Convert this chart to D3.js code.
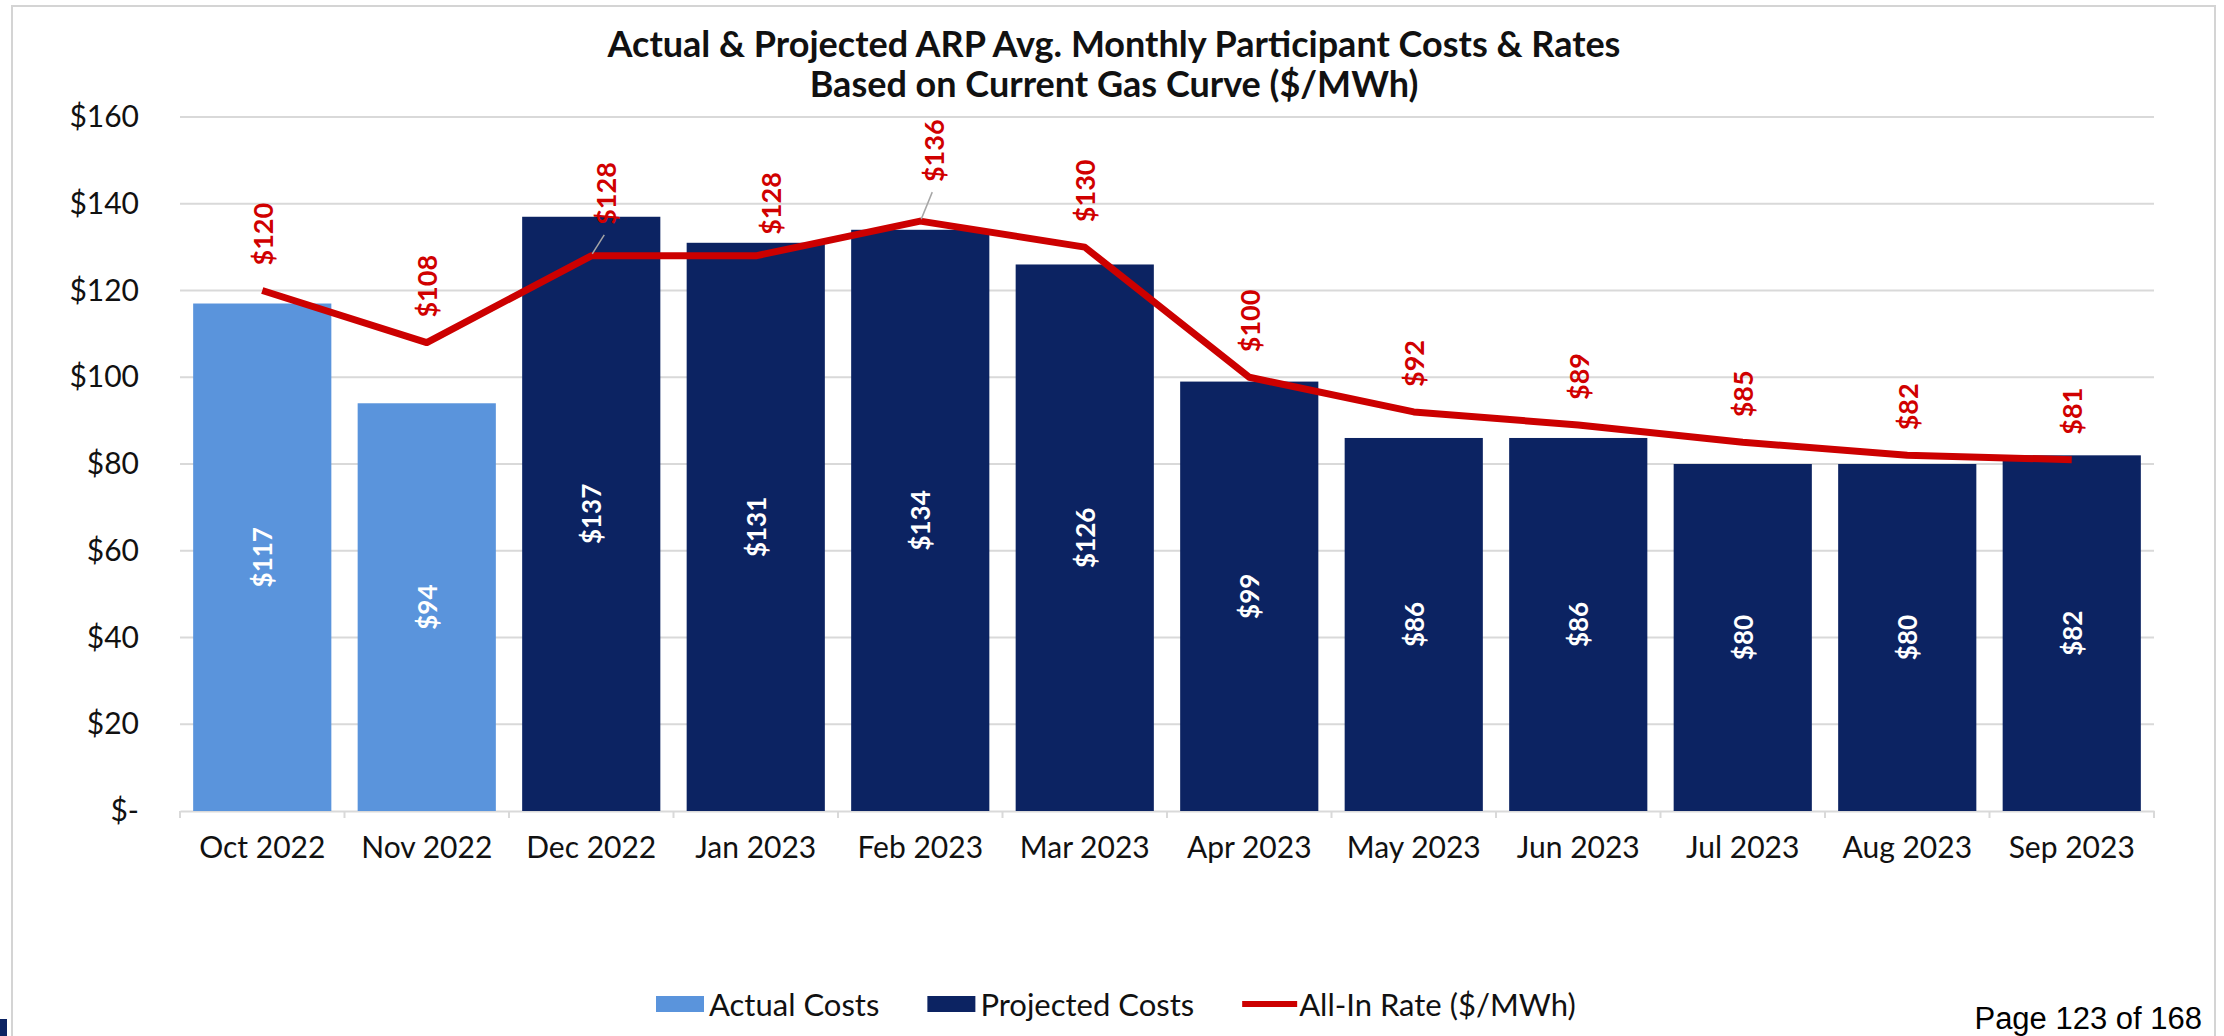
<!DOCTYPE html>
<html>
<head>
<meta charset="utf-8">
<script src="https://cdn.jsdelivr.net/npm/d3@7"></script>
<style>
  body { margin: 0; background: #fff; }
  svg { display: block; font-family: Lato, "Open Sans", sans-serif; }
</style>
</head>
<body>
<svg id="chart" width="2224" height="1036"></svg>
<script>
// chart data
var months = ["Oct 2022", "Nov 2022", "Dec 2022", "Jan 2023", "Feb 2023", "Mar 2023",
              "Apr 2023", "May 2023", "Jun 2023", "Jul 2023", "Aug 2023", "Sep 2023"];
var actualCosts = [117, 94, null, null, null, null, null, null, null, null, null, null];
var projectedCosts = [null, null, 137, 131, 134, 126, 99, 86, 86, 80, 80, 82];
var allInRate = [120, 108, 128, 128, 136, 130, 100, 92, 89, 85, 82, 81];
var yTicks = [0, 20, 40, 60, 80, 100, 120, 140, 160];
var titleLines = ["Actual & Projected ARP Avg. Monthly Participant Costs & Rates",
                  "Based on Current Gas Curve ($/MWh)"];

var lightBlue = "#5A94DC", navy = "#0C2362", red = "#CC0000", grid = "#D9D9D9";

var svg = d3.select("#chart");

// outer frame of the chart object
svg.append("rect")
  .attr("x", 12).attr("y", 6).attr("width", 2203).attr("height", 1040)
  .attr("fill", "none").attr("stroke", "#D4D4D4").attr("stroke-width", 2);

var x = d3.scaleBand().domain(months).range([180, 2154])
  .paddingInner(0.16).paddingOuter(0.08);
var y = d3.scaleLinear().domain([0, 160]).range([811, 117]);

// gridlines
svg.append("g").selectAll("line").data(yTicks.filter(function(d) { return d > 0; }))
  .join("line")
  .attr("x1", 180).attr("x2", 2154)
  .attr("y1", function(d) { return y(d); }).attr("y2", function(d) { return y(d); })
  .attr("stroke", grid).attr("stroke-width", 2);

// y axis labels
var yAxis = svg.append("g").attr("transform", "translate(139,0)")
  .call(d3.axisLeft(y).tickValues(yTicks).tickSize(0).tickPadding(0)
    .tickFormat(function(d) { return d === 0 ? "$-" : "$" + d; }));
yAxis.select(".domain").remove();
yAxis.selectAll("text").attr("font-size", 30).attr("fill", "#111")
  .attr("font-family", "Lato, sans-serif");

// x axis
var xAxis = svg.append("g").attr("transform", "translate(0,811)")
  .call(d3.axisBottom(x).tickSize(0).tickPadding(26));
xAxis.select(".domain").attr("stroke", grid).attr("stroke-width", 2);
xAxis.selectAll("text").attr("font-size", 30).attr("fill", "#111")
  .attr("font-family", "Lato, sans-serif");
// tick marks sit on band boundaries
svg.append("g").selectAll("line").data(months.concat(["end"]))
  .join("line")
  .attr("x1", function(d, i) { return i < months.length ? x(d) - x.step() * 0.08 : 2154; })
  .attr("x2", function(d, i) { return i < months.length ? x(d) - x.step() * 0.08 : 2154; })
  .attr("y1", 811).attr("y2", 818)
  .attr("stroke", grid).attr("stroke-width", 2);

// bars
function drawBars(values, color) {
  var rows = months.map(function(m, i) { return { m: m, v: values[i] }; })
    .filter(function(d) { return d.v != null; });
  svg.append("g").selectAll("rect").data(rows).join("rect")
    .attr("x", function(d) { return x(d.m); })
    .attr("width", x.bandwidth())
    .attr("y", function(d) { return y(d.v); })
    .attr("height", function(d) { return y(0) - y(d.v); })
    .attr("fill", color);
  svg.append("g").selectAll("text").data(rows).join("text")
    .attr("transform", function(d) {
      return "translate(" + (x(d.m) + x.bandwidth() / 2) + "," + ((y(0) + y(d.v)) / 2) + ") rotate(-90)";
    })
    .attr("text-anchor", "middle").attr("dominant-baseline", "central")
    .attr("font-size", 26).attr("font-weight", "bold").attr("fill", "#fff")
    .text(function(d) { return "$" + d.v; });
}
drawBars(actualCosts, lightBlue);
drawBars(projectedCosts, navy);

// all-in rate line
var pts = months.map(function(m, i) { return { m: m, v: allInRate[i] }; });
var line = d3.line()
  .x(function(d) { return x(d.m) + x.bandwidth() / 2; })
  .y(function(d) { return y(d.v); });
svg.append("path").datum(pts)
  .attr("d", line).attr("fill", "none")
  .attr("stroke", red).attr("stroke-width", 7).attr("stroke-linejoin", "round");

// a few labels were dragged aside in the original, with leader lines
var nudge = { "Dec 2022": [14, -6, true], "Jan 2023": [15, 4, false], "Feb 2023": [13, -14, true] };
var lbl = svg.append("g");
pts.forEach(function(d) {
  var px = x(d.m) + x.bandwidth() / 2, py = y(d.v);
  var n = nudge[d.m] || [0, 0, false];
  var lx = px + n[0], ly = py - 25 + n[1];
  if (n[2]) {
    lbl.append("line")
      .attr("x1", px + 1).attr("y1", py - 2)
      .attr("x2", lx - 1).attr("y2", ly + 10)
      .attr("stroke", "#A6A6A6").attr("stroke-width", 1.5);
  }
  lbl.append("text")
    .attr("transform", "translate(" + lx + "," + ly + ") rotate(-90)")
    .attr("text-anchor", "start").attr("dominant-baseline", "central")
    .attr("font-size", 27).attr("font-weight", "bold").attr("fill", "#D00000")
    .text("$" + d.v);
});

// title
svg.append("text").attr("x", 1114).attr("text-anchor", "middle")
  .attr("font-size", 36).attr("font-weight", "bold").attr("fill", "#111")
  .selectAll("tspan").data(titleLines).join("tspan")
  .attr("x", 1114).attr("y", function(d, i) { return 57 + i * 40; })
  .text(function(d) { return d; });

// legend
var legend = svg.append("g").attr("transform", "translate(656,1004)");
var items = [
  { label: "Actual Costs", kind: "bar", color: lightBlue },
  { label: "Projected Costs", kind: "bar", color: navy },
  { label: "All-In Rate ($/MWh)", kind: "line", color: red }
];
var cx = 0;
items.forEach(function(it) {
  if (it.kind === "bar") {
    legend.append("rect").attr("x", cx).attr("y", -8).attr("width", 48).attr("height", 16)
      .attr("fill", it.color);
  } else {
    legend.append("line").attr("x1", cx).attr("x2", cx + 55).attr("y1", 0).attr("y2", 0)
      .attr("stroke", it.color).attr("stroke-width", 6);
  }
  var t = legend.append("text").attr("x", cx + (it.kind === "bar" ? 53 : 57)).attr("y", 0)
    .attr("dominant-baseline", "central").attr("font-size", 31).attr("fill", "#111")
    .text(it.label);
  cx += (it.kind === "bar" ? 53 : 57) + t.node().getComputedTextLength() + 48;
});

// page footer
svg.append("text").attr("x", 2202).attr("y", 1029).attr("text-anchor", "end")
  .attr("font-family", "'Liberation Sans', Arial, sans-serif").attr("font-size", 31)
  .attr("fill", "#000").text("Page 123 of 168");
svg.append("rect").attr("x", 0).attr("y", 1019).attr("width", 7).attr("height", 17).attr("fill", navy);
</script>
</body>
</html>
